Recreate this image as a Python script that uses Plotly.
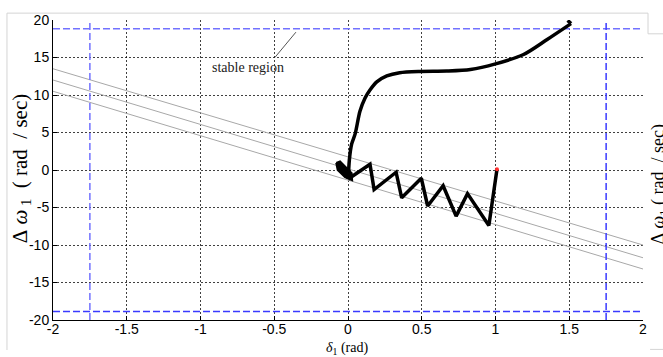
import plotly.graph_objects as go

# ---------------- data ----------------
x_ticks = [-2, -1.5, -1, -0.5, 0, 0.5, 1, 1.5, 2]
x_tick_labels = ["-2", "-1.5", "-1", "-0.5", "0", "0.5", "1", "1.5", "2"]
y_ticks = [-20, -15, -10, -5, 0, 5, 10, 15, 20]
y_tick_labels = ["-20", "-15", "-10", "-5", "0", "5", "10", "15", "20"]

# stable-region limits (blue dashed)
delta_lim = 1.75
omega_lim = 18.85

# grey switching lines: value at delta=-2 and delta=2
grey_x = [-2, 2]
grey_a = [13.5, -10.0]
grey_b = [12.0, -11.7]
grey_c = [10.5, -13.2]

# trajectory: starting hook
hook_x = [1.489, 1.512]
hook_y = [19.95, 19.52]
# trajectory: reaching phase (smooth)
reach_x = [1.512, 1.35, 1.19, 1.0, 0.83, 0.67, 0.49, 0.35, 0.263, 0.195,
           0.149, 0.115, 0.081, 0.048, 0.025, 0.009, 0.002]
reach_y = [19.52, 17.4, 15.4, 14.15, 13.4, 13.2, 13.15, 12.98, 12.54, 11.75,
           10.67, 9.58, 7.83, 4.78, 3.48, 1.3, -1.2]
# arrow-like blob at the end of reaching phase
blob_x = [-0.08, -0.054, 0.025, 0.028, -0.02, -0.07, -0.08]
blob_y = [0.95, 1.15, -0.44, -1.35, -0.95, 0.0, 0.95]
# trajectory: chattering (zig-zag)
zig_x = [0.002, 0.149, 0.177, 0.326, 0.364, 0.497, 0.54, 0.645, 0.733, 0.81, 0.955, 1.01]
zig_y = [-1.2, 0.77, -2.62, -0.3, -3.71, -1.1, -4.8, -2.1, -6.15, -3.15, -7.4, 0.1]
end_x = [1.01]
end_y = [0.1]

# annotation
label_x, label_y = -0.675, 13.67
pointer_x = [-0.496, -0.353]
pointer_y = [15.0, 18.38]

# ---------------- figure ----------------
fig = go.Figure()

for gy in (grey_a, grey_b, grey_c):
    fig.add_trace(go.Scatter(x=grey_x, y=gy, mode="lines",
                             line=dict(color="#a8a8a8", width=1), hoverinfo="skip"))

blue_light = "#7272ff"
blue_dark = "#3a3aff"
fig.add_trace(go.Scatter(x=[-2, 2], y=[omega_lim, omega_lim], mode="lines",
                         line=dict(color=blue_light, width=1.5, dash="7px,3px")))
fig.add_trace(go.Scatter(x=[-2, 2], y=[-omega_lim, -omega_lim], mode="lines",
                         line=dict(color=blue_dark, width=1.5, dash="7px,3px")))
fig.add_trace(go.Scatter(x=[-delta_lim, -delta_lim], y=[-20, 20], mode="lines",
                         line=dict(color=blue_light, width=1.5, dash="7px,3px")))
fig.add_trace(go.Scatter(x=[delta_lim, delta_lim], y=[-20, 20], mode="lines",
                         line=dict(color=blue_dark, width=1.5, dash="7px,3px")))

fig.add_trace(go.Scatter(x=pointer_x, y=pointer_y, mode="lines",
                         line=dict(color="#555555", width=1)))

fig.add_trace(go.Scatter(x=hook_x, y=hook_y, mode="lines",
                         line=dict(color="black", width=3.5)))
fig.add_trace(go.Scatter(x=reach_x, y=reach_y, mode="lines",
                         line=dict(color="black", width=3.5, shape="spline", smoothing=0.8)))
fig.add_trace(go.Scatter(x=blob_x, y=blob_y, mode="lines", fill="toself",
                         fillcolor="black", line=dict(color="black", width=2)))
fig.add_trace(go.Scatter(x=zig_x, y=zig_y, mode="lines",
                         line=dict(color="black", width=3.5)))
fig.add_trace(go.Scatter(x=end_x, y=end_y, mode="markers",
                         marker=dict(color="#ff3030", size=4)))

axis_common = dict(
    showline=True, linecolor="black", linewidth=1,
    ticks="inside", ticklen=4, tickcolor="black",
    showgrid=True, gridcolor="rgba(0,0,0,0.75)", gridwidth=1, griddash="2px,2px",
    zeroline=False, mirror=False,
    tickfont=dict(family="Liberation Sans, Arial", size=14, color="black"),
)

fig.update_layout(
    width=663, height=357,
    margin=dict(l=53, r=20, t=14, b=37),
    paper_bgcolor="white", plot_bgcolor="white",
    showlegend=False,
    xaxis=dict(range=[-2, 2], tickvals=x_ticks, ticktext=x_tick_labels,
               ticklabelstandoff=-4, **axis_common),
    yaxis=dict(range=[-20, 20], tickvals=y_ticks, ticktext=y_tick_labels, **axis_common),
    annotations=[
        dict(x=label_x, y=label_y, xref="x", yref="y", text="stable region",
             showarrow=False, font=dict(family="Liberation Serif, Times New Roman", size=14, color="#222")),
        dict(x=-0.054, y=0.506, xref="paper", yref="paper", textangle=-90,
             text="\u0394\u00a0<i>\u03c9</i><sub>\u00a01</sub>\u00a0\u00a0(\u00a0rad\u00a0\u00a0/\u00a0sec)",
             showarrow=False, xanchor="center", yanchor="middle",
             font=dict(family="Liberation Serif, Times New Roman", size=21, color="black")),
        dict(x=0.498, y=-0.094, xref="paper", yref="paper",
             text="<i>\u03b4</i><sub>1</sub> (rad)",
             showarrow=False, xanchor="center", yanchor="middle",
             font=dict(family="Liberation Serif, Times New Roman", size=14, color="black")),
        dict(x=1.028, y=0.453, xref="paper", yref="paper", textangle=-90,
             text="\u0394\u00a0<i>\u03c9</i><sub>1</sub>\u00a0(\u00a0rad\u00a0\u00a0/\u00a0sec)",
             showarrow=False, xanchor="center", yanchor="middle",
             font=dict(family="Liberation Serif, Times New Roman", size=18, color="black")),
    ],
    shapes=[
        dict(type="line", xref="paper", yref="paper", x0=-0.078, x1=1.0085, y0=1.0229, y1=1.0229,
             line=dict(color="#d4d4d4", width=1)),
        dict(type="line", xref="paper", yref="paper", x0=-0.078, x1=-0.078, y0=1.0229, y1=-0.1,
             line=dict(color="#d4d4d4", width=1)),
        dict(type="line", xref="paper", yref="paper", x0=1.0085, x1=1.0085, y0=1.0229, y1=0.954,
             line=dict(color="#d4d4d4", width=1)),
        dict(type="line", xref="paper", yref="paper", x0=1.0085, x1=1.04, y0=0.954, y1=0.954,
             line=dict(color="#d4d4d4", width=1)),
        dict(type="line", xref="paper", yref="paper", x0=1.012, x1=1.04, y0=-0.098, y1=-0.098,
             line=dict(color="#d4d4d4", width=1)),
    ],
)

fig.write_html("out.html")
